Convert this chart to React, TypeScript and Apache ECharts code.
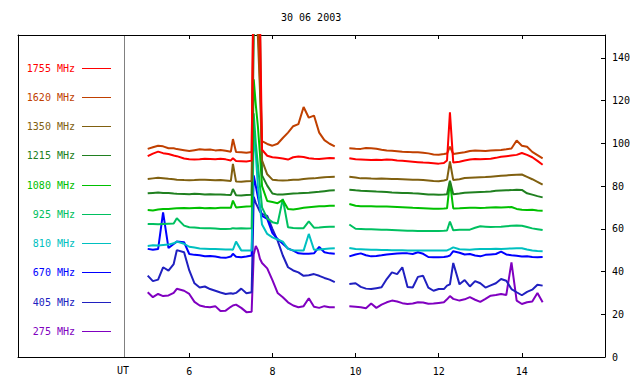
import React, { useEffect, useRef } from "react";
import * as echarts from "echarts";

const chartTitle = "30 06 2003";
const axisUnit = "UT";
const xTicks = [6, 8, 10, 12, 14];
const yTicks = [0, 20, 40, 60, 80, 100, 120, 140];

// legend order, top to bottom
const freqLabels = ["1755 MHz", "1620 MHz", "1350 MHz", "1215 MHz", "1080 MHz", "925 MHz", "810 MHz", "670 MHz", "405 MHz", "275 MHz"];
const freqColors = ["#ff0000", "#c04000", "#806010", "#208020", "#00c000", "#00c060", "#00c0c0", "#0000ff", "#2020c0", "#8000c0"];

// first observation block (UT hours)
const timesA = [5.0, 5.125, 5.25, 5.37, 5.5, 5.625, 5.7, 5.875, 6.0, 6.125, 6.25, 6.375, 6.5, 6.625, 6.75, 6.875, 7.0, 7.05, 7.125, 7.25, 7.375, 7.5, 7.55, 7.6, 7.65, 7.7, 7.75, 7.875, 8.0, 8.125, 8.25, 8.375, 8.5, 8.625, 8.75, 8.875, 9.0, 9.125, 9.25, 9.375, 9.5];
// second observation block (UT hours)
const timesB = [9.85, 10.0, 10.125, 10.25, 10.375, 10.5, 10.625, 10.75, 10.875, 11.0, 11.125, 11.25, 11.375, 11.5, 11.625, 11.75, 11.875, 12.0, 12.125, 12.2, 12.27, 12.35, 12.5, 12.625, 12.75, 12.875, 13.0, 13.125, 13.25, 13.375, 13.5, 13.625, 13.75, 13.875, 14.0, 14.125, 14.25, 14.375, 14.5];

const f1755A = [94.0, 95.2, 96.1, 95.4, 95.0, 94.3, 94.0, 92.9, 92.6, 92.4, 92.5, 92.8, 92.7, 92.6, 92.8, 92.5, 92.0, 93.0, 91.7, 91.6, 91.5, 91.9, 190, 200, 175, 160, 97, 94.2, 93.5, 93.2, 92.9, 92.4, 93.5, 93.8, 93.6, 93.0, 92.8, 92.7, 92.9, 93.1, 93.0];
const f1755B = [93.0, 92.5, 92.4, 92.3, 92.2, 92.3, 92.2, 92.4, 92.3, 92.0, 91.8, 91.6, 91.4, 91.2, 91.0, 90.9, 90.7, 90.5, 90.8, 92.0, 114.5, 91.0, 91.4, 92.0, 92.4, 92.7, 92.6, 92.7, 92.8, 93.2, 93.7, 94.0, 94.3, 94.6, 95.5, 94.6, 93.5, 91.8, 90.0];

const f1620A = [97.4, 98.2, 98.9, 98.6, 97.7, 97.7, 97.3, 96.8, 96.4, 96.8, 97.2, 97.0, 97.1, 96.7, 96.9, 96.5, 96.1, 102, 95.9, 95.8, 95.6, 95.9, 180, 190, 160, 130, 101, 99.7, 98.9, 99.8, 102.5, 105, 108, 109, 117, 112, 113, 105, 101.5, 99.8, 98.6];
const f1620B = [97.7, 97.5, 97.4, 97.8, 97.7, 97.5, 97.0, 96.6, 96.5, 96.3, 96.1, 96.0, 95.8, 95.8, 95.6, 95.3, 94.8, 94.7, 95.0, 95.2, 98.5, 95.0, 95.5, 95.8, 96.4, 96.6, 96.5, 96.4, 96.6, 96.8, 96.9, 97.2, 97.6, 101.3, 98.9, 98.4, 96.0, 94.5, 93.0];

const f1350A = [83.3, 83.6, 83.9, 83.7, 83.4, 83.2, 83.0, 82.8, 82.7, 82.8, 83.0, 82.9, 82.8, 82.7, 82.8, 82.6, 82.4, 90.4, 82.1, 82.0, 82.3, 82.4, 170, 160, 150, 125, 92, 85.5, 83.0, 82.7, 82.6, 82.7, 82.9, 83.0, 83.3, 83.5, 83.6, 83.9, 84.1, 84.3, 84.4];
const f1350B = [84.4, 84.0, 83.6, 83.7, 83.5, 83.4, 83.5, 83.4, 83.3, 83.3, 83.2, 83.1, 83.0, 82.9, 82.8, 82.6, 82.4, 82.3, 82.6, 83.0, 91.5, 82.8, 83.2, 83.8, 83.9, 84.0, 84.1, 84.2, 84.4, 84.6, 84.8, 85.0, 85.2, 85.3, 85.4, 84.3, 83.2, 82.0, 80.7];

const f1215A = [76.6, 76.8, 77.0, 76.8, 76.7, 76.5, 76.4, 76.3, 76.2, 76.4, 76.3, 76.1, 76.2, 76.0, 76.1, 75.9, 75.8, 78.6, 75.7, 75.6, 75.8, 75.9, 150, 165, 160, 155, 85, 80.2, 76.5, 76.0, 76.1, 76.3, 76.5, 76.6, 76.8, 76.9, 77.1, 77.3, 77.6, 77.9, 78.0];
const f1215B = [78.3, 78.0, 77.8, 77.7, 77.6, 77.4, 77.3, 77.2, 77.0, 76.9, 76.8, 76.8, 76.6, 76.5, 76.3, 76.1, 76.0, 75.9, 76.0, 76.2, 82.5, 76.2, 76.5, 76.9, 77.0, 77.1, 77.2, 77.3, 77.5, 77.8, 77.9, 78.0, 78.1, 78.3, 78.2, 76.6, 76.0, 75.3, 74.7];

const f1080A = [68.8, 68.6, 69.0, 69.3, 69.3, 69.5, 69.6, 69.7, 69.6, 69.7, 69.8, 69.6, 69.7, 69.6, 69.8, 69.9, 69.8, 73.2, 70.0, 70.2, 70.4, 70.6, 130, 118, 108, 95, 80, 73.0, 72.5, 72.0, 73.5, 69.3, 69.0, 69.4, 69.8, 70.1, 70.3, 70.5, 70.6, 70.8, 70.8];
const f1080B = [71.6, 70.8, 70.6, 70.5, 70.5, 70.4, 70.4, 70.4, 70.3, 70.2, 70.1, 70.0, 69.8, 69.7, 69.6, 69.5, 69.4, 69.4, 69.5, 69.6, 82.0, 69.5, 69.6, 69.7, 69.8, 69.8, 69.7, 69.8, 70.0, 70.1, 70.0, 70.1, 70.2, 69.3, 68.9, 68.8, 68.9, 68.6, 68.5];

const f925A = [62.3, 62.2, 62.1, 62.3, 62.4, 62.5, 64.9, 61.5, 60.7, 60.6, 60.4, 60.3, 60.2, 60.1, 59.9, 59.9, 60.0, 60.3, 60.1, 60.2, 60.1, 60.2, 114, 100, 90, 80, 70, 64.9, 63.1, 62.5, 74.0, 60.7, 60.4, 60.3, 60.3, 63.5, 60.5, 60.6, 60.8, 61.0, 61.0];
const f925B = [62.0, 60.0, 59.9, 59.8, 59.8, 59.7, 59.6, 59.5, 59.4, 59.3, 59.2, 59.1, 59.1, 59.0, 59.0, 59.0, 59.0, 59.0, 59.1, 59.2, 63.4, 59.3, 59.5, 59.6, 59.6, 60.5, 61.2, 61.0, 60.8, 60.9, 61.0, 61.2, 61.4, 61.5, 61.4, 60.8, 60.2, 59.8, 59.4];

const f810A = [52.0, 52.3, 52.2, 52.4, 52.6, 53.2, 54.0, 53.0, 51.6, 51.2, 50.8, 50.7, 50.6, 50.5, 50.4, 50.3, 50.3, 50.2, 54.0, 49.9, 49.8, 49.8, 105, 95, 80, 70, 62, 57.6, 56.0, 55.0, 54.0, 50.6, 49.9, 49.8, 49.8, 57.6, 50.2, 50.3, 50.6, 50.8, 50.9];
const f810B = [51.0, 50.5, 50.4, 50.3, 50.2, 50.2, 50.1, 50.1, 50.0, 50.0, 50.0, 49.9, 49.9, 49.9, 49.9, 49.8, 49.8, 49.8, 49.8, 49.9, 50.5, 51.3, 50.4, 50.3, 50.2, 50.4, 50.6, 50.5, 50.6, 50.7, 50.6, 50.7, 50.8, 50.9, 50.9, 50.3, 49.8, 49.6, 49.5];

const f670A = [50.6, 50.2, 50.5, 67.7, 51.0, 52.9, 54.0, 53.7, 48.2, 47.8, 47.6, 47.2, 47.3, 47.0, 46.6, 46.4, 47.0, 48.3, 46.9, 46.7, 47.0, 47.5, 85, 80, 75, 70, 66, 64.6, 58.0, 55.2, 53.0, 50.8, 49.8, 48.5, 48.3, 48.3, 48.5, 51.5, 49.0, 48.5, 48.3];
const f670B = [47.1, 48.0, 48.5, 47.6, 47.1, 47.3, 47.6, 48.0, 48.2, 48.4, 48.5, 48.5, 48.2, 49.0, 48.3, 46.8, 46.7, 46.7, 46.8, 47.0, 47.5, 49.5, 48.8, 48.0, 48.2, 47.5, 47.1, 47.8, 48.0, 48.2, 49.3, 48.0, 47.6, 47.4, 47.0, 47.1, 46.8, 46.7, 46.8];

const f405A = [38.1, 35.5, 36.2, 42.0, 40.4, 43.5, 50.0, 49.0, 40.5, 34.5, 32.5, 33.0, 31.8, 31.0, 30.2, 29.5, 29.8, 29.6, 30.0, 32.0, 29.8, 30.3, 75, 72, 70, 68, 67, 66, 60, 54.5, 47.5, 42.0, 40.5, 39.6, 38.0, 38.3, 38.8, 38.0, 37.0, 36.2, 35.0];
const f405B = [34.2, 34.5, 32.8, 32.0, 31.8, 32.2, 32.6, 36.5, 39.6, 38.8, 42.0, 32.8, 32.5, 37.5, 38.0, 32.5, 31.0, 31.8, 31.8, 33.4, 34.0, 44.0, 34.0, 36.0, 33.0, 35.5, 34.5, 32.5, 33.5, 34.5, 36.5, 35.7, 31.8, 30.3, 28.9, 30.5, 31.5, 33.8, 33.4];

const f275A = [30.3, 28.0, 29.5, 28.5, 28.8, 30.0, 31.9, 31.0, 29.5, 25.8, 24.1, 23.5, 23.3, 23.8, 21.5, 21.7, 23.5, 24.1, 24.5, 23.0, 21.0, 21.2, 48, 52, 50, 46, 44, 41.5, 36.0, 30.0, 28.0, 25.6, 24.1, 23.3, 23.8, 27.5, 23.5, 23.0, 23.8, 23.3, 23.3];
const f275B = [23.7, 23.5, 23.3, 22.8, 25.0, 23.0, 24.5, 25.6, 26.4, 26.0, 25.2, 24.8, 25.0, 25.6, 25.5, 24.9, 25.0, 25.3, 25.6, 27.0, 28.5, 27.2, 26.4, 27.0, 28.0, 26.8, 25.8, 27.2, 28.7, 29.0, 29.5, 29.0, 44.3, 26.4, 24.8, 25.6, 26.0, 30.0, 25.6];

// same order as freqLabels
const blocksA = [f1755A, f1620A, f1350A, f1215A, f1080A, f925A, f810A, f670A, f405A, f275A];
const blocksB = [f1755B, f1620B, f1350B, f1215B, f1080B, f925B, f810B, f670B, f405B, f275B];

const FONT = "DejaVu Sans Mono";

export default function App() {
  const ref = useRef<HTMLDivElement>(null);

  useEffect(() => {
    if (!ref.current) return;
    const chart = echarts.init(ref.current, null, { renderer: "svg" });

    const series: any[] = [];
    // draw lowest frequency first so 1755 MHz sits on top
    for (let i = freqLabels.length - 1; i >= 0; i--) {
      const mk = (times: number[], vals: number[]) => ({
        type: "line",
        name: freqLabels[i],
        data: times.map((t, k) => [t, vals[k]]),
        showSymbol: false,
        symbol: "none",
        clip: true,
        lineStyle: { color: freqColors[i], width: 2 },
        itemStyle: { color: freqColors[i] },
        emphasis: { disabled: true },
        xAxisIndex: 0,
        yAxisIndex: 0,
      });
      series.push(mk(timesA, blocksA[i]));
      series.push(mk(timesB, blocksB[i]));
    }

    const legendY0 = 67.5;
    const legendStep = 29.25;
    const graphics: any[] = [
      {
        type: "text",
        left: 281,
        top: 12,
        style: { text: chartTitle, fill: "#000", font: `10px '${FONT}'` },
      },
      {
        type: "text",
        x: 123,
        y: 370,
        style: { text: axisUnit, fill: "#000", font: `10px '${FONT}'`, align: "center", verticalAlign: "middle" },
      },
      {
        type: "line",
        shape: { x1: 124.5, y1: 35, x2: 124.5, y2: 357 },
        style: { stroke: "#808080", lineWidth: 1 },
      },
    ];
    freqLabels.forEach((lab, i) => {
      const y = Math.round(legendY0 + i * legendStep) + 0.5;
      graphics.push({
        type: "text",
        x: 75,
        y,
        style: { text: lab, fill: freqColors[i], font: `10px '${FONT}'`, align: "right", verticalAlign: "middle" },
      });
      graphics.push({
        type: "line",
        shape: { x1: 82, y1: y, x2: 111, y2: y },
        style: { stroke: freqColors[i], lineWidth: 1 },
      });
    });

    const axisLabelStyle = { color: "#000", fontFamily: FONT, fontSize: 10 };

    chart.setOption({
      animation: false,
      backgroundColor: "#fff",
      grid: { left: 18, right: 35, top: 35, height: 322, containLabel: false },
      xAxis: [
        {
          type: "value",
          position: "bottom",
          min: 1.88,
          max: 16,
          axisLine: { show: true, onZero: false, lineStyle: { color: "#000", width: 1 } },
          axisTick: { show: true, inside: true, length: 4, customValues: xTicks, lineStyle: { color: "#000" } },
          axisLabel: { show: true, customValues: xTicks, margin: 9, ...axisLabelStyle },
          splitLine: { show: false },
        },
        {
          type: "value",
          position: "top",
          min: 1.88,
          max: 16,
          axisLine: { show: true, onZero: false, lineStyle: { color: "#000", width: 1 } },
          axisTick: { show: true, inside: true, length: 4, customValues: xTicks, lineStyle: { color: "#000" } },
          axisLabel: { show: false },
          splitLine: { show: false },
        },
      ],
      yAxis: [
        {
          type: "value",
          position: "right",
          min: 0,
          max: 150.7,
          axisLine: { show: true, onZero: false, lineStyle: { color: "#000", width: 1 } },
          axisTick: { show: true, inside: true, length: 4, customValues: yTicks, lineStyle: { color: "#000" } },
          axisLabel: { show: true, customValues: yTicks, margin: 7, ...axisLabelStyle },
          splitLine: { show: false },
        },
        {
          type: "value",
          position: "left",
          min: 0,
          max: 150.7,
          axisLine: { show: true, onZero: false, lineStyle: { color: "#000", width: 1 } },
          axisTick: { show: false },
          axisLabel: { show: false },
          splitLine: { show: false },
        },
      ],
      series,
      graphic: graphics,
    });

    return () => chart.dispose();
  }, []);

  return (
    <div
      ref={ref}
      style={{ position: "fixed", left: 0, top: 0, width: 640, height: 384, background: "#fff" }}
    />
  );
}
